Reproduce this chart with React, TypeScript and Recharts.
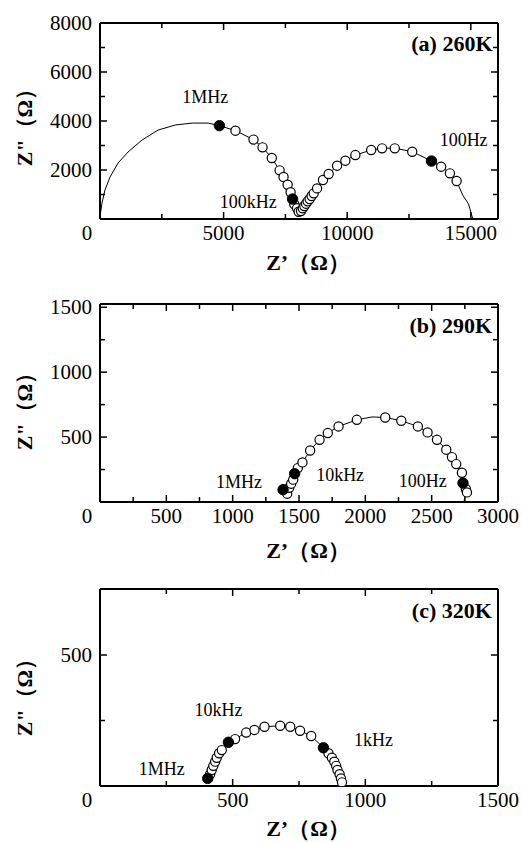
import React from 'react';
import { ScatterChart, Scatter, XAxis, YAxis } from 'recharts';

// ---- data: (a) 260K
const openA = [
  [5480, 3605], [6210, 3240], [6575, 2925], [6950, 2490], [7265, 1985], [7425, 1715],
  [7590, 1400], [7710, 1090], [7860, 600], [7970, 436], [8035, 298], [8130, 326],
  [8200, 436], [8265, 530], [8335, 625], [8400, 720], [8480, 816], [8560, 938],
  [8645, 1047], [8780, 1250], [9020, 1590], [9250, 1836], [9590, 2176], [9925, 2380],
  [10330, 2610], [10970, 2815], [11410, 2883], [11925, 2883], [12630, 2747],
  [13800, 2135], [14155, 1863], [14425, 1550],
];
const filledA = [[4830, 3810], [7790, 815], [13410, 2366]];
const fitA = [
  [0, 80], [80, 650], [200, 1180], [405, 1710], [730, 2285], [1135, 2735], [1700, 3225],
  [2350, 3630], [3040, 3835], [3730, 3915], [4375, 3915], [4830, 3810], [5480, 3605],
  [6210, 3240], [6575, 2925], [6950, 2490], [7265, 1985], [7590, 1400], [7790, 815],
  [7970, 436], [8070, 280], [8200, 436], [8400, 720], [8645, 1047], [9020, 1590],
  [9250, 1836], [9590, 2176], [9925, 2380], [10330, 2610], [10970, 2815], [11410, 2890],
  [11925, 2890], [12630, 2747], [13410, 2366], [13800, 2135], [14155, 1863],
  [14425, 1550], [14670, 980], [14910, 610], [15070, 40],
];
const notesA = [
  { x: 4255, y: 4980, text: '1MHz' },
  { x: 5997, y: 694, text: '100kHz' },
  { x: 14710, y: 3223, text: '100Hz' },
];

// ---- data: (b) 290K
const openB = [
  [1411, 64], [1426, 110], [1441, 141], [1456, 172], [1491, 261], [1526, 305],
  [1584, 397], [1655, 479], [1717, 531], [1798, 582], [1936, 633], [2150, 651],
  [2271, 626], [2396, 582], [2469, 536], [2540, 479], [2610, 403], [2653, 346],
  [2685, 292], [2728, 225], [2758, 100], [2766, 74],
];
const filledB = [[1380, 95], [1467, 218], [2736, 146]];
const fitB = [
  [1395, 45], [1411, 64], [1426, 110], [1441, 141], [1456, 172], [1467, 218],
  [1491, 261], [1526, 305], [1584, 397], [1655, 479], [1717, 531], [1798, 582],
  [1936, 633], [2050, 655], [2150, 651], [2271, 626], [2396, 582], [2469, 536],
  [2540, 479], [2610, 403], [2653, 346], [2685, 292], [2728, 225], [2740, 146],
  [2755, 90], [2745, 5],
];
const notesB = [
  { x: 1048, y: 152, text: '1MHz' },
  { x: 1810, y: 206, text: '10kHz' },
  { x: 2433, y: 164, text: '100Hz' },
];

// ---- data: (c) 320K
const openC = [
  [415, 45], [421, 61], [427, 77], [434, 93], [440, 108], [449, 125], [459, 137],
  [509, 179], [551, 204], [582, 214], [620, 226], [679, 230], [717, 226], [754, 211],
  [796, 191], [861, 125], [874, 108], [883, 93], [890, 77], [895, 61], [903, 45],
  [908, 29], [912, 14],
];
const filledC = [[406, 29], [484, 167], [842, 146]];
const fitC = [
  [402, 10], [406, 29], [415, 45], [427, 77], [440, 108], [459, 137], [484, 167],
  [509, 179], [551, 204], [582, 214], [620, 226], [679, 230], [717, 226], [754, 211],
  [796, 191], [842, 146], [861, 125], [874, 108], [890, 77], [903, 45], [912, 14], [915, 3],
];
const notesC = [
  { x: 447, y: 290, text: '10kHz' },
  { x: 1031, y: 176, text: '1kHz' },
  { x: 233, y: 63, text: '1MHz' },
];

const SERIF = "'Liberation Serif', 'Times New Roman', serif";
const toXY = (arr: number[][]) => arr.map(([x, y]) => ({ x, y }));

const AxisTick = (props: any) => {
  const { x, y, payload, side, labels } = props;
  const v = payload.value;
  const lab = labels.includes(v);
  const len = lab ? 7 : 5;
  const sw = 1.5;
  if (side === 'bottom') {
    return (
      <g>
        <line x1={x} x2={x} y1={y} y2={y - len} stroke="#000" strokeWidth={sw} />
        {lab && (
          <text x={v === 0 ? x - 13 : x} y={y + 14} textAnchor="middle" dominantBaseline="central"
            fontFamily={SERIF} fontSize={21} fill="#000">{v}</text>
        )}
      </g>
    );
  }
  if (side === 'top') return <line x1={x} x2={x} y1={y} y2={y + len} stroke="#000" strokeWidth={sw} />;
  if (side === 'right') return <line x1={x} x2={x - len} y1={y} y2={y} stroke="#000" strokeWidth={sw} />;
  return (
    <g>
      <line x1={x} x2={x + len} y1={y} y2={y} stroke="#000" strokeWidth={sw} />
      {lab && v !== 0 && (
        <text x={x - 8} y={y} textAnchor="end" dominantBaseline="central"
          fontFamily={SERIF} fontSize={21} fill="#000">{v}</text>
      )}
    </g>
  );
};

const OpenDot = (p: any) => <circle cx={p.cx} cy={p.cy} r={4.6} fill="#fff" stroke="#000" strokeWidth={1.2} />;
const FilledDot = (p: any) => <circle cx={p.cx} cy={p.cy} r={5.2} fill="#000" stroke="#000" strokeWidth={1} />;
const NoDot = () => <g />;
const Note = (p: any) => (
  <text x={p.cx} y={p.cy} textAnchor={p.payload.anchor || 'middle'} dominantBaseline="central"
    fontFamily={SERIF} fontSize={p.payload.bold ? 22 : 18} fontWeight={p.payload.bold ? 'bold' : 'normal'} fill="#000">
    {p.payload.text}
  </text>
);

interface PanelProps {
  height: number;
  top: number;
  bottom: number;
  xMax: number;
  yMax: number;
  xTicks: number[];
  xLabels: number[];
  yTicks: number[];
  yLabels: number[];
  open: number[][];
  filled: number[][];
  fit: number[][];
  notes: { x: number; y: number; text: string; anchor?: string; bold?: boolean }[];
}

// axes are 1px thick so Recharts still draws them; margins are reduced by 1 to compensate
const Panel = (p: PanelProps) => {
  const axisLine = { stroke: '#000', strokeWidth: 2 };
  return (
    <ScatterChart width={522} height={p.height} margin={{ top: p.top - 1, right: 23, bottom: p.bottom - 1, left: 99 }}>
      <XAxis xAxisId={0} type="number" dataKey="x" domain={[0, p.xMax]} ticks={p.xTicks} interval={0}
        height={1} tickSize={0} tickMargin={0} axisLine={axisLine} tickLine={false}
        tick={<AxisTick side="bottom" labels={p.xLabels} />} allowDataOverflow />
      <XAxis xAxisId="top" orientation="top" type="number" dataKey="x" domain={[0, p.xMax]} ticks={p.xTicks} interval={0}
        height={1} tickSize={0} tickMargin={0} axisLine={axisLine} tickLine={false}
        tick={<AxisTick side="top" labels={p.xLabels} />} allowDataOverflow />
      <YAxis yAxisId={0} type="number" dataKey="y" domain={[0, p.yMax]} ticks={p.yTicks} interval={0}
        width={1} tickSize={0} tickMargin={0} axisLine={axisLine} tickLine={false}
        tick={<AxisTick side="left" labels={p.yLabels} />} allowDataOverflow />
      <YAxis yAxisId="right" orientation="right" type="number" dataKey="y" domain={[0, p.yMax]} ticks={p.yTicks} interval={0}
        width={1} tickSize={0} tickMargin={0} axisLine={axisLine} tickLine={false}
        tick={<AxisTick side="right" labels={p.yLabels} />} allowDataOverflow />
      <Scatter data={toXY(p.fit)} line={{ stroke: '#000', strokeWidth: 1 }} shape={NoDot} isAnimationActive={false} />
      <Scatter data={toXY(p.open)} shape={OpenDot} isAnimationActive={false} />
      <Scatter data={toXY(p.filled)} shape={FilledDot} isAnimationActive={false} />
      <Scatter data={p.notes} shape={Note} isAnimationActive={false} />
    </ScatterChart>
  );
};

const steps = (max: number, step: number) => {
  const out: number[] = [];
  for (let v = 0; v <= max; v += step) out.push(v);
  return out;
};

const XTitle = ({ top }: { top: number }) => (
  <div style={{ position: 'absolute', left: 208, width: 200, top: top - 12, height: 24, lineHeight: '24px', textAlign: 'center',
    fontFamily: SERIF, fontWeight: 'bold', fontSize: 22, color: '#000' }}>
    Z’（Ω）
  </div>
);
const YTitle = ({ center }: { center: number }) => (
  <div style={{ position: 'absolute', left: 25 - 60, width: 120, top: center - 12, height: 24, lineHeight: '24px', textAlign: 'center',
    transform: 'rotate(-90deg)', fontFamily: SERIF, fontWeight: 'bold', fontSize: 22, color: '#000' }}>
    Z"（Ω）
  </div>
);

export default function App() {
  return (
    <div style={{ position: 'absolute', left: 0, top: 0, width: 522, height: 842, background: '#fff', overflow: 'hidden' }}>
      <div style={{ position: 'absolute', left: 0, top: 0 }}>
        <Panel height={280} top={23} bottom={61} xMax={16100} yMax={8000}
          xTicks={steps(15000, 2500)} xLabels={[0, 5000, 10000, 15000]}
          yTicks={steps(8000, 1000)} yLabels={[2000, 4000, 6000, 8000]}
          open={openA} filled={filledA} fit={fitA}
          notes={[...notesA, { x: 15880, y: 7160, text: '(a) 260K', anchor: 'end', bold: true }]} />
      </div>
      <div style={{ position: 'absolute', left: 0, top: 280 }}>
        <Panel height={280} top={24} bottom={58} xMax={3000} yMax={1525}
          xTicks={steps(3000, 250)} xLabels={steps(3000, 500)}
          yTicks={steps(1500, 250)} yLabels={[500, 1000, 1500]}
          open={openB} filled={filledB} fit={fitB}
          notes={[...notesB, { x: 2955, y: 1363, text: '(b) 290K', anchor: 'end', bold: true }]} />
      </div>
      <div style={{ position: 'absolute', left: 0, top: 560 }}>
        <Panel height={282} top={29} bottom={56} xMax={1500} yMax={752}
          xTicks={steps(1500, 250)} xLabels={[0, 500, 1000, 1500]}
          yTicks={[0, 250, 500]} yLabels={[500]}
          open={openC} filled={filledC} fit={fitC}
          notes={[...notesC, { x: 1477, y: 670, text: '(c) 320K', anchor: 'end', bold: true }]} />
      </div>
      <XTitle top={263} />
      <XTitle top={551} />
      <XTitle top={829} />
      <YTitle center={122} />
      <YTitle center={406} />
      <YTitle center={692} />
    </div>
  );
}
